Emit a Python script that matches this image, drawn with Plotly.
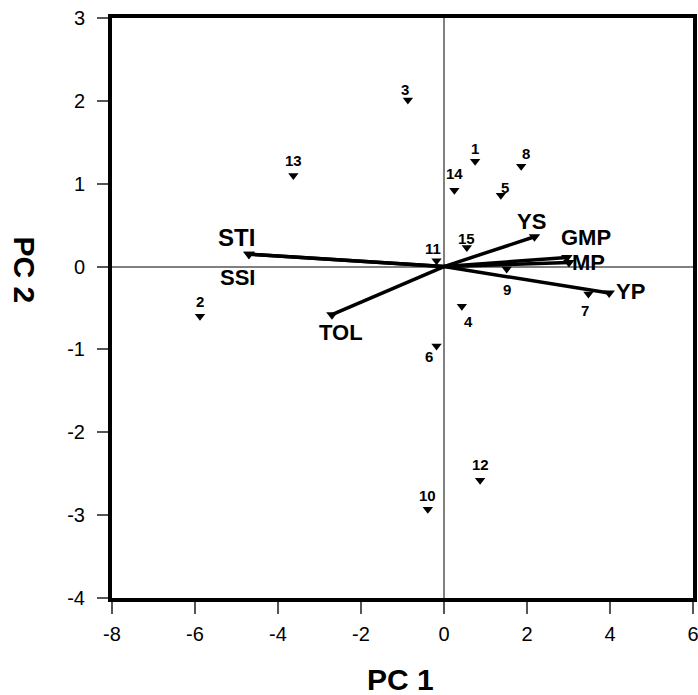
import plotly.graph_objects as go

# Genotype scores (PC1, PC2)
genotypes = ["1", "2", "3", "4", "5", "6", "7", "8", "9", "10", "11", "12", "13", "14", "15"]
pc1_scores = [0.75, -5.88, -0.87, 0.43, 1.37, -0.18, 3.48, 1.86, 1.51, -0.39, -0.18, 0.87, -3.63, 0.25, 0.55]
pc2_scores = [1.27, -0.60, 2.01, -0.48, 0.86, -0.96, -0.33, 1.21, -0.03, -2.93, 0.07, -2.58, 1.10, 0.92, 0.23]

# Index vectors (PC1, PC2)
indices = ["STI", "SSI", "TOL", "YS", "GMP", "MP", "YP"]
pc1_loadings = [-4.70, -4.70, -2.70, 2.18, 2.96, 3.01, 3.98]
pc2_loadings = [0.15, 0.15, -0.58, 0.36, 0.11, 0.05, -0.32]

# Axis ticks
x_ticks = [-8, -6, -4, -2, 0, 2, 4, 6]
x_ticktext = ["-8", "-6", "-4", "-2", "0", "2", "4", "6"]
y_ticks = [-4, -3, -2, -1, 0, 1, 2, 3]
y_ticktext = ["-4", "-3", "-2", "-1", "0", "1", "2", "3"]

# label offsets in pixels (dx right, dy down)
geno_offsets = [(0, -13), (0, -15), (-3, -11), (7, 15), (4, -8), (-8, 10), (-3, 17), (5, -13),
                (0, 20), (0, -14), (-4, -12), (0, -16), (0, -15), (0, -17), (0, -9)]
idx_offsets = [(-12, -17), (-11, 23), (9, 18), (-3, -15), (19, -20), (20, 0), (21, -2)]
idx_sizes = [24, 22, 22, 22, 22, 22, 22]

FONT = "Liberation Sans, Arial, sans-serif"

fig = go.Figure()

# vectors
for name, x, y in zip(indices, pc1_loadings, pc2_loadings):
    fig.add_trace(go.Scatter(x=[0, x], y=[0, y], mode="lines",
                             line=dict(color="black", width=3.5), hoverinfo="skip", showlegend=False))
fig.add_trace(go.Scatter(x=pc1_loadings, y=pc2_loadings, mode="markers",
                         marker=dict(symbol="triangle-down", size=10, color="black"),
                         showlegend=False, text=indices))

# genotypes
fig.add_trace(go.Scatter(x=pc1_scores, y=pc2_scores, mode="markers",
                         marker=dict(symbol="triangle-down", size=9, color="black"),
                         showlegend=False, text=genotypes))

annotations = []
for name, x, y, (dx, dy) in zip(genotypes, pc1_scores, pc2_scores, geno_offsets):
    annotations.append(dict(x=x, y=y, xref="x", yref="y", text=name, showarrow=False,
                            xshift=dx, yshift=-dy,
                            font=dict(family=FONT, size=15, color="black", weight="bold")))
for name, x, y, (dx, dy), fs in zip(indices, pc1_loadings, pc2_loadings, idx_offsets, idx_sizes):
    annotations.append(dict(x=x, y=y, xref="x", yref="y", text=name, showarrow=False,
                            xshift=dx, yshift=-dy,
                            font=dict(family=FONT, size=fs, color="black", weight="bold")))

# axis titles
annotations.append(dict(x=0.496, y=-0.141, xref="paper", yref="paper", text="PC 1", showarrow=False,
                        yanchor="middle", xanchor="center",
                        font=dict(family=FONT, size=30, color="black", weight="bold")))
annotations.append(dict(x=-0.151, y=0.566, xref="paper", yref="paper", text="PC 2", showarrow=False,
                        textangle=90, xanchor="center", yanchor="middle",
                        font=dict(family=FONT, size=30, color="black", weight="bold")))

fig.update_layout(
    width=698, height=695,
    margin=dict(l=112, r=5, t=18, b=97),
    plot_bgcolor="white", paper_bgcolor="white",
    annotations=annotations,
    font=dict(family=FONT, size=20, color="black"),
    showlegend=False,
)
fig.update_xaxes(range=[-8, 6], tickvals=x_ticks, ticktext=x_ticktext, showgrid=False,
                 zeroline=True, zerolinecolor="#808080", zerolinewidth=1.5,
                 showline=True, linecolor="black", linewidth=4, mirror=True,
                 ticks="outside", ticklen=12, tickcolor="#555555", tickwidth=1.5,
                 ticklabelstandoff=3, ticklabeloverflow="allow",
                 tickfont=dict(family=FONT, size=20, color="black"), automargin=False)
fig.update_yaxes(range=[-4, 3], tickvals=y_ticks, ticktext=y_ticktext, showgrid=False,
                 zeroline=True, zerolinecolor="#808080", zerolinewidth=1.5,
                 showline=True, linecolor="black", linewidth=4, mirror=True,
                 ticks="outside", ticklen=11, tickcolor="#555555", tickwidth=1.5,
                 ticklabelstandoff=8, ticklabeloverflow="allow",
                 tickfont=dict(family=FONT, size=20, color="black"), automargin=False)

fig.write_html("out.html", config={"displayModeBar": False},
               post_script="document.body.style.margin='0px';document.body.style.overflow='hidden';")
